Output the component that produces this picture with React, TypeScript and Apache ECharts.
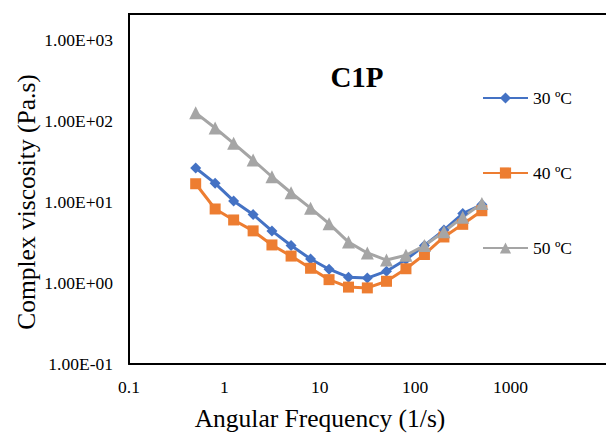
import React, { useEffect, useRef } from "react";
import * as echarts from "echarts";

const freq = [0.5, 0.8, 1.25, 2, 3.15, 5, 8, 12.5, 20, 31.5, 50, 80, 125, 200, 315, 500];
const visc30 = [26.3, 17.0, 10.3, 7.0, 4.4, 2.9, 1.98, 1.48, 1.18, 1.15, 1.4, 1.95, 2.9, 4.5, 7.2, 9.3];
const visc40 = [16.8, 8.2, 6.0, 4.4, 2.95, 2.15, 1.52, 1.1, 0.89, 0.87, 1.05, 1.5, 2.25, 3.7, 5.3, 7.8];
const visc50 = [126, 82, 53, 33, 20.5, 13, 8.4, 5.4, 3.2, 2.35, 1.92, 2.2, 2.9, 4.3, 6.5, 9.6];
const seriesNames = ["30 ºC", "40 ºC", "50 ºC"];
const colors = ["#4472C4", "#ED7D31", "#A5A5A5"];
const symbols = ["diamond", "rect", "triangle"];
const symbolSizes = [11, 11, 13];

const FONT = "'Liberation Serif', 'Times New Roman', serif";

function fmtSci(v: number): string {
  const e = Math.round(Math.log10(v));
  const m = v / Math.pow(10, e);
  const sign = e < 0 ? "-" : "+";
  return m.toFixed(2) + "E" + sign + String(Math.abs(e)).padStart(2, "0");
}

export default function App() {
  const ref = useRef<HTMLDivElement>(null);
  useEffect(() => {
    if (!ref.current) return;
    const chart = echarts.init(ref.current, undefined, { renderer: "svg" });
    const all = [visc30, visc40, visc50];
    chart.setOption({
      animation: false,
      backgroundColor: "#ffffff",
      grid: { left: 129, top: 40, right: -2, bottom: 71 },
      xAxis: {
        type: "log",
        logBase: 10,
        min: 0.1,
        max: 10000,
        axisLine: { show: true, lineStyle: { color: "#000", width: 2 } },
        axisTick: { show: false },
        splitLine: { show: false },
        axisLabel: {
          color: "#000",
          fontFamily: FONT,
          fontSize: 17.5,
          margin: 14,
          showMaxLabel: false,
          formatter: (v: number) => (v >= 10000 ? "" : String(+v.toPrecision(6))),
        },
      },
      yAxis: {
        type: "log",
        logBase: 10,
        min: 0.1,
        max: 1000,
        axisLine: { show: true, lineStyle: { color: "#000", width: 2 } },
        axisTick: { show: false },
        splitLine: { show: false },
        axisLabel: {
          color: "#000",
          fontFamily: FONT,
          fontSize: 17.5,
          margin: 16,
          formatter: (v: number) => fmtSci(v),
        },
      },
      legend: {
        orient: "vertical",
        left: 482,
        top: 89,
        padding: 0,
        itemWidth: 45,
        itemHeight: 14,
        itemGap: 57,
        textStyle: { color: "#000", fontFamily: FONT, fontSize: 17.5 },
        data: seriesNames,
      },
      graphic: [
        {
          type: "polyline",
          shape: { points: [[129, 41], [129, 14], [606, 14]] },
          style: { stroke: "#000", lineWidth: 2, fill: "none" },
        },
        {
          type: "text",
          x: 357,
          y: 77,
          style: {
            text: "C1P",
            fontFamily: FONT,
            fontWeight: "bold",
            fontSize: 29,
            fill: "#000",
            textAlign: "center",
            textVerticalAlign: "middle",
          },
        },
        {
          type: "text",
          x: 320,
          y: 418,
          style: {
            text: "Angular Frequency (1/s)",
            fontFamily: FONT,
            fontSize: 25.5,
            fill: "#000",
            textAlign: "center",
            textVerticalAlign: "middle",
          },
        },
        {
          type: "text",
          x: 26,
          y: 202,
          rotation: Math.PI / 2,
          style: {
            text: "Complex viscosity (Pa.s)",
            fontFamily: FONT,
            fontSize: 25.5,
            fill: "#000",
            textAlign: "center",
            textVerticalAlign: "middle",
          },
        },
      ],
      series: seriesNames.map((name, k) => ({
        name,
        type: "line",
        data: freq.map((f, i) => [f, all[k][i]]),
        symbol: symbols[k],
        symbolSize: symbolSizes[k],
        lineStyle: { color: colors[k], width: 3 },
        itemStyle: { color: colors[k] },
        color: colors[k],
      })),
    });
    return () => chart.dispose();
  }, []);
  return (
    <div
      ref={ref}
      style={{ position: "absolute", left: 0, top: 0, width: 606, height: 435 }}
    />
  );
}
